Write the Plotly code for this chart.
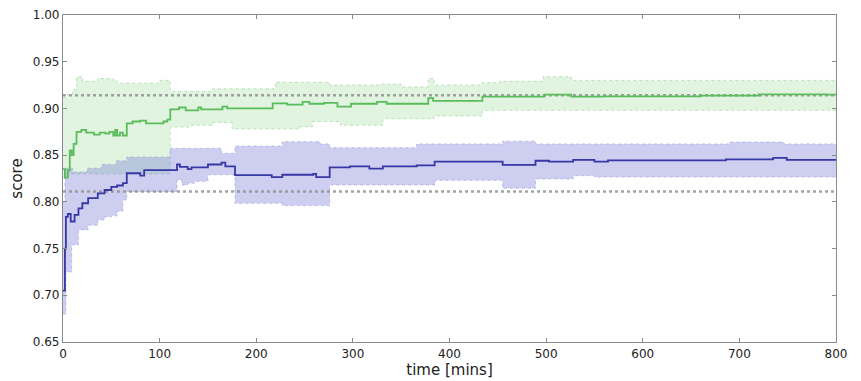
import plotly.graph_objects as go

# ---- data ----
green_t = [0, 2, 5, 7, 9, 11, 14, 19, 24, 32, 38, 44, 48, 52, 54, 56, 59, 62, 66, 72, 80, 86, 104, 108, 111,
           120, 127, 140, 143, 165, 170, 217, 232, 248, 255, 270, 284, 298, 325, 335, 378, 383, 434, 498, 526,
           560, 660, 720, 790, 800]
green_mean = [0.835, 0.826, 0.834, 0.855, 0.850, 0.862, 0.875, 0.877, 0.874, 0.872, 0.874, 0.873, 0.875, 0.871,
              0.877, 0.871, 0.874, 0.871, 0.884, 0.886, 0.887, 0.884, 0.886, 0.888, 0.899,
              0.901, 0.898, 0.901, 0.899, 0.902, 0.900, 0.9055, 0.904, 0.907, 0.905, 0.906, 0.902, 0.905, 0.907,
              0.905, 0.911, 0.908, 0.9126, 0.9147, 0.9126, 0.913, 0.9137, 0.915, 0.9147, 0.9147]

green_up_t = [0, 5, 10, 14, 20, 36, 52, 56, 100, 111, 155, 220, 276, 330, 350, 378, 384, 434, 452, 497, 526, 800]
green_up = [0.912, 0.915, 0.920, 0.934, 0.929, 0.932, 0.930, 0.927, 0.930, 0.918, 0.921, 0.928, 0.925, 0.926,
            0.923, 0.932, 0.925, 0.9276, 0.929, 0.934, 0.930, 0.931]

green_lo_t = [0, 5, 111, 130, 155, 175, 245, 258, 287, 331, 384, 434, 800]
green_lo = [0.826, 0.830, 0.880, 0.882, 0.885, 0.878, 0.8805, 0.886, 0.882, 0.889, 0.892, 0.898, 0.898]

blue_t = [0, 2, 3, 5, 8, 12, 16, 20, 26, 36, 43, 50, 56, 62, 66, 80, 84, 118, 121, 129, 133, 150, 164, 168,
          178, 216, 227, 259, 262, 276, 297, 317, 331, 366, 384.6, 455, 489, 503, 528, 550, 564, 686, 735,
          749, 800]
blue_mean = [0.705, 0.750, 0.784, 0.787, 0.779, 0.786, 0.793, 0.7985, 0.804, 0.809, 0.8127, 0.816, 0.8175,
             0.820, 0.8306, 0.828, 0.834, 0.840, 0.8375, 0.835, 0.837, 0.840, 0.842, 0.838,
             0.8287, 0.8265, 0.829, 0.830, 0.8265, 0.837, 0.838, 0.8355, 0.838, 0.839, 0.843, 0.8395, 0.844,
             0.843, 0.845, 0.843, 0.8445, 0.8455, 0.847, 0.845, 0.845]

blue_up_t = [0, 2, 10, 25, 40, 55, 66, 111, 164, 178, 227, 266, 276, 366, 455, 489, 690, 746, 800]
blue_up = [0.800, 0.836, 0.832, 0.836, 0.840, 0.844, 0.848, 0.8573, 0.852, 0.8598, 0.8644, 0.862, 0.858,
           0.862, 0.865, 0.862, 0.864, 0.862, 0.862]

blue_lo_t = [0, 3, 9, 16, 26, 36, 43, 50, 56, 62, 66, 118, 123, 129, 136, 150, 178, 227, 276, 385, 455, 489,
             528, 550, 800]
blue_lo = [0.680, 0.725, 0.754, 0.770, 0.775, 0.7806, 0.784, 0.785, 0.790, 0.802, 0.811, 0.8234, 0.818,
           0.820, 0.822, 0.829, 0.7985, 0.796, 0.818, 0.823, 0.8145, 0.8245, 0.828, 0.8265, 0.8265]

ref_levels = [0.914, 0.811]
x_ticks = [0, 100, 200, 300, 400, 500, 600, 700, 800]
y_ticks = [0.65, 0.70, 0.75, 0.80, 0.85, 0.90, 0.95, 1.00]

# ---- figure ----
fig = go.Figure()

def band(tl, lo, tu, up, fill, edge):
    fig.add_trace(go.Scatter(x=tl, y=lo, mode="lines", line=dict(shape="hv", color=edge, width=1, dash="dot"),
                             hoverinfo="skip", showlegend=False))
    fig.add_trace(go.Scatter(x=tu, y=up, mode="lines", line=dict(shape="hv", color=edge, width=1, dash="dot"),
                             fill="tonexty", fillcolor=fill, hoverinfo="skip", showlegend=False))

band(green_lo_t, green_lo, green_up_t, green_up, "rgba(100,200,100,0.20)", "rgba(150,210,150,0.6)")
band(blue_lo_t, blue_lo, blue_up_t, blue_up, "rgba(110,110,215,0.34)", "rgba(160,160,220,0.6)")

for lvl in ref_levels:
    fig.add_trace(go.Scatter(x=[x_ticks[0], x_ticks[-1]], y=[lvl, lvl], mode="lines",
                             line=dict(color="rgba(140,140,140,0.8)", width=2.5, dash="dot"),
                             hoverinfo="skip", showlegend=False))

fig.add_trace(go.Scatter(x=green_t, y=green_mean, mode="lines",
                         line=dict(shape="hv", color="rgb(90,188,90)", width=1.8), showlegend=False))
fig.add_trace(go.Scatter(x=blue_t, y=blue_mean, mode="lines",
                         line=dict(shape="hv", color="rgb(55,55,165)", width=1.8), showlegend=False))

axis_common = dict(showline=True, linecolor="#8a8a8a", linewidth=1.2, mirror="ticks", ticks="inside",
                   ticklen=4, tickcolor="#8a8a8a", showgrid=False, zeroline=False, automargin=False,
                   tickfont=dict(family="DejaVu Sans", size=12, color="#222"))

fig.update_xaxes(range=[0, 800], tickvals=x_ticks, ticktext=[str(v) for v in x_ticks],
                 title=dict(text="time [mins]", font=dict(family="DejaVu Sans", size=15, color="#222"), standoff=2),
                 **axis_common)
fig.update_yaxes(range=[0.65, 1.00], tickvals=y_ticks, ticktext=[f"{v:.2f}" for v in y_ticks],
                 title=dict(text="score", font=dict(family="DejaVu Sans", size=15, color="#222"), standoff=6),
                 **axis_common)

# page body has an 8px default margin, so the figure is shrunk and offset to land on the reference frame
fig.update_layout(width=853, height=373, margin=dict(l=55, r=25, t=7, b=39),
                  plot_bgcolor="white", paper_bgcolor="white", showlegend=False)

fig.write_html("out.html")
